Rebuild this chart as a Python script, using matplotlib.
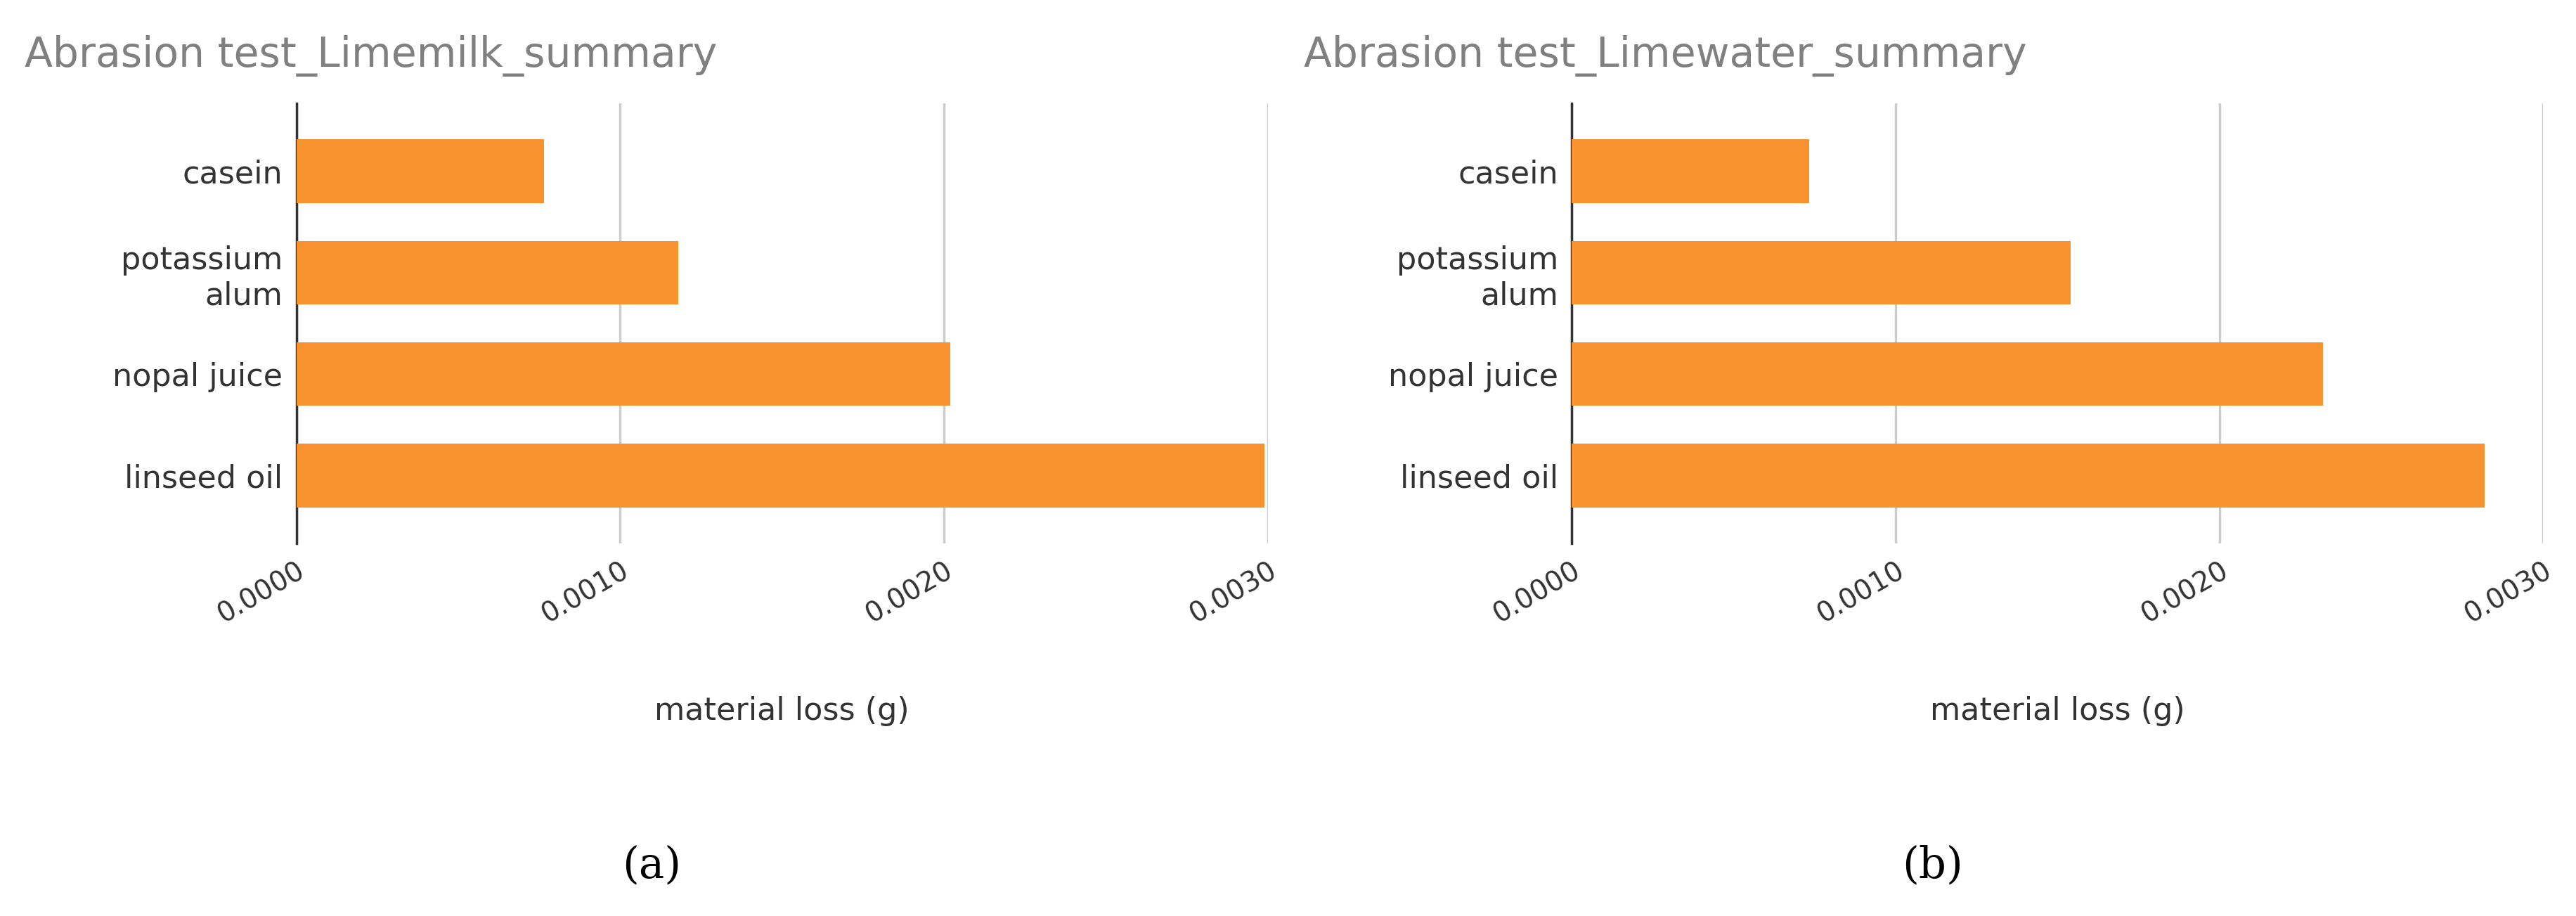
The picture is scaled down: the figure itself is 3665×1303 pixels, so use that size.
import numpy as np
import matplotlib.pyplot as plt

categories = ['casein', 'potassium\nalum', 'nopal juice', 'linseed oil']
limemilk = [0.000765, 0.00118, 0.00202, 0.00299]
limewater = [0.000733, 0.00154, 0.00232, 0.00282]
ticks = [0.0, 0.001, 0.002, 0.003]
tick_labels = ['0.0000', '0.0010', '0.0020', '0.0030']

orange = '#F7922F'
fig = plt.figure(figsize=(36.66, 13.03), dpi=100)

panels = [
    (0.115, 'Abrasion test_Limemilk_summary', 0.0095, limemilk, '(a)', 0.253),
    (0.610, 'Abrasion test_Limewater_summary', 0.506, limewater, '(b)', 0.750),
]
for left, title, tx, vals, lab, lx in panels:
    ax = fig.add_axes([left, 0.407, 0.377, 0.48])
    y = np.arange(len(categories))
    ax.barh(y, vals, height=0.63, color=orange, zorder=3)
    ax.set_ylim(len(categories) - 0.33, -0.67)
    ax.set_xlim(0, 0.003)
    ax.set_yticks(y)
    ax.set_yticklabels(categories, fontsize=32, color='#333333', ha='right')
    ax.set_xticks(ticks)
    ax.set_xticklabels(tick_labels, fontsize=28, color='#333333',
                       rotation=30, ha='right', rotation_mode='anchor')
    ax.tick_params(length=0, pad=14)
    ax.grid(axis='x', color='#cccccc', linewidth=2.5, zorder=0)
    for s in ['top', 'right', 'bottom']:
        ax.spines[s].set_visible(False)
    ax.spines['left'].set_linewidth(2.5)
    ax.spines['left'].set_color('#333333')
    ax.set_xlabel('material loss (g)', fontsize=32, color='#333333', labelpad=70)
    fig.text(tx, 0.939, title, fontsize=42, color='#808080', va='center')
    fig.text(lx, 0.055, lab, fontsize=44, family='DejaVu Serif', ha='center', va='center')

fig.savefig('out.png', dpi=100, facecolor='white')
